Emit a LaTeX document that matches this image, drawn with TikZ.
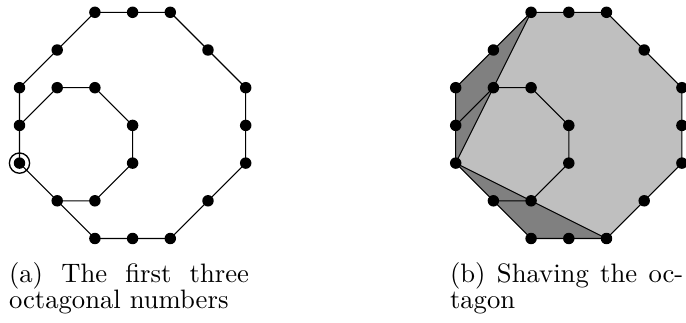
\documentclass[tikz,border=0pt]{standalone}
\definecolor{shadedark}{gray}{0.5}
\definecolor{shadelight}{gray}{0.75}
\tikzset{
  dot/.style={circle,fill=black,inner sep=0pt,minimum size=4.3pt},
  ring/.style={circle,draw=black,line width=0.5pt,inner sep=0pt,minimum size=7.6pt},
  edge/.style={line width=0.4pt,line join=round},
  caption/.style={inner sep=0pt,align=justify,text width=90pt,anchor=base west,font=\fontsize{10}{10}\selectfont},
  lattice/.style={x=14.1375pt,y=14.1375pt}
}
\begin{document}
\begin{tikzpicture}[x=0.375pt,y=0.375pt]
\useasboundingbox (0,0) rectangle (686,322);
% ---------- left figure ----------
\begin{scope}[shift={(7.3125pt,31.3125pt)},lattice]
  \foreach \i/\j in {2/6,3/6,4/6,5/5,6/4,6/3,6/2,5/1,4/0,3/0,2/0,1/1,0/2,0/3,0/4,1/5,1/4,2/4,3/3,3/2,2/1}
    \coordinate (L\i\j) at (\i,\j);
  \draw[edge] (L26)--(L36)--(L46)--(L55)--(L64)--(L63)--(L62)--(L51)--(L40)--(L30)--(L20)--(L11)--(L02)--(L03)--(L04)--(L15)--cycle;
  \draw[edge] (L03)--(L14)--(L24)--(L33)--(L32)--(L21)--(L11);
  \foreach \i/\j in {2/6,3/6,4/6,5/5,6/4,6/3,6/2,5/1,4/0,3/0,2/0,1/1,0/2,0/3,0/4,1/5,1/4,2/4,3/3,3/2,2/1}
    \node[dot] (dL\i\j) at (L\i\j) {};
  \node[ring] (first) at (L02) {};
\end{scope}
% ---------- right figure ----------
\begin{scope}[shift={(170.8875pt,31.3125pt)},lattice]
  \foreach \i/\j in {2/6,3/6,4/6,5/5,6/4,6/3,6/2,5/1,4/0,3/0,2/0,1/1,0/2,0/3,0/4,1/5,1/4,2/4,3/3,3/2,2/1}
    \coordinate (R\i\j) at (\i,\j);
  \fill[shadelight] (R02)--(R26)--(R46)--(R64)--(R62)--(R40)--cycle;
  \fill[shadedark] (R02)--(R04)--(R26)--cycle;
  \fill[shadedark] (R02)--(R20)--(R40)--cycle;
  \draw[edge] (R26)--(R36)--(R46)--(R55)--(R64)--(R63)--(R62)--(R51)--(R40)--(R30)--(R20)--(R11)--(R02)--(R03)--(R04)--(R15)--cycle;
  \draw[edge] (R03)--(R14)--(R24)--(R33)--(R32)--(R21)--(R11);
  \draw[edge] (R26)--(R02)--(R40);
  \foreach \i/\j in {2/6,3/6,4/6,5/5,6/4,6/3,6/2,5/1,4/0,3/0,2/0,1/1,0/2,0/3,0/4,1/5,1/4,2/4,3/3,3/2,2/1}
    \node[dot] (dR\i\j) at (R\i\j) {};
\end{scope}
% ---------- captions ----------
\node[caption] (capa) at (8.5,40) {(a) The first three octagonal numbers};
\node[caption,text width=87.5pt] (capb) at (449.5,40) {(b) Shaving the oc\-tagon};
\end{tikzpicture}
\end{document}
